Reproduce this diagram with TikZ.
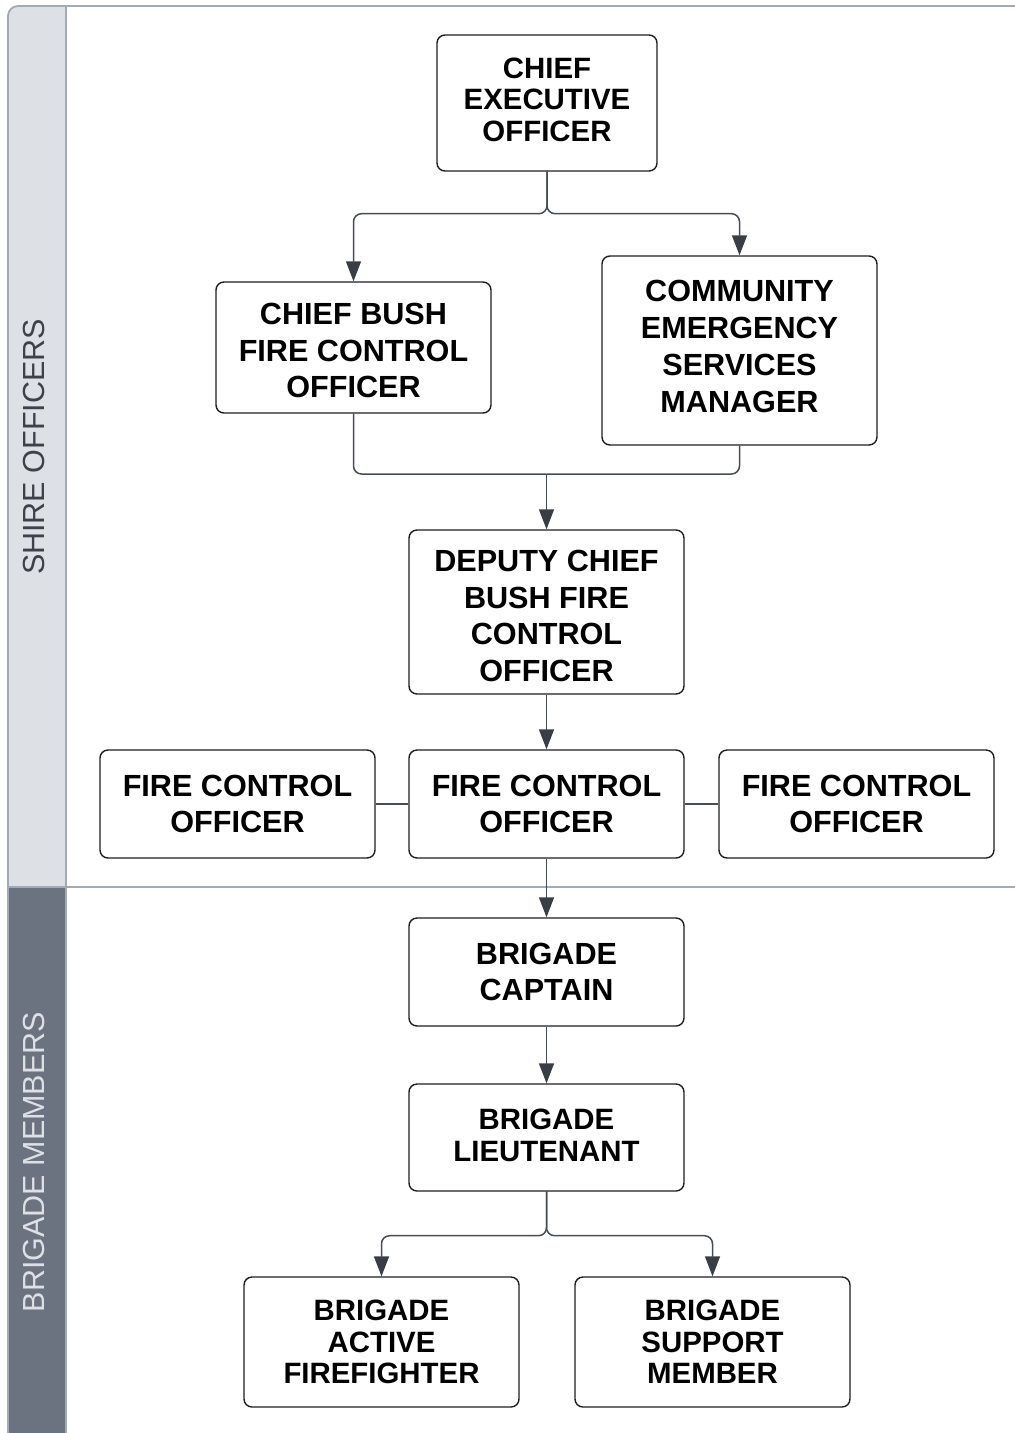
\documentclass[tikz,border=0pt]{standalone}
\usepackage{fontspec}
\setmainfont{Liberation Sans}
\usetikzlibrary{arrows.meta}
\definecolor{laneline}{HTML}{A3A9B5}
\definecolor{lanelight}{HTML}{DDE0E5}
\definecolor{lanedark}{HTML}{6B7280}
\definecolor{labeldark}{HTML}{3C424B}
\definecolor{connc}{HTML}{474D57}
\definecolor{tipc}{HTML}{393E46}
\definecolor{boxc}{HTML}{1E1E1E}
\tikzset{
  box/.style={draw=boxc, line width=1.4pt, rounded corners=8pt, fill=white, inner sep=0pt},
  tsmall/.style={align=center, inner sep=0pt, font=\fontsize{29.4}{31.5}\selectfont\bfseries},
  tlarge/.style={align=center, inner sep=0pt, font=\fontsize{30.6}{36.7}\selectfont\bfseries},
  conn/.style={draw=connc, line width=1.5pt, rounded corners=8pt},
  arr/.style={conn, -{Triangle[length=20pt,width=15pt,fill=tipc,color=tipc]}},
  lanelabel/.style={rotate=90, font=\fontsize{30.5}{32}\selectfont}
}
\begin{document}
\begin{tikzpicture}[x=1pt,y=-1pt]
\useasboundingbox (0,0) rectangle (1015,1433);
% swimlanes
\fill[lanelight] (8,1433) -- (8,16) arc[start angle=180,end angle=270,radius=10] -- (66,6) -- (66,887) -- (8,887) -- cycle;
\fill[lanedark] (8,887) rectangle (66,1433);
\draw[laneline, line width=1.8pt] (8,1433) -- (8,16) arc[start angle=180,end angle=270,radius=10] -- (1015,6);
\draw[laneline, line width=1.5pt] (66,6) -- (66,1433);
\draw[laneline, line width=1.5pt] (8,887) -- (1015,887);
\node[lanelabel, text=labeldark] (l1) at (34,447) {SHIRE OFFICERS};
\node[lanelabel, text=lanelight] (l2) at (34,1162) {BRIGADE MEMBERS};
% boxes
\node[box, minimum width=220pt, minimum height=136pt,
  label={[tsmall, yshift=3.5pt]center:CHIEF\\EXECUTIVE\\OFFICER}] (ceo) at (547,103) {};
\node[box, minimum width=275pt, minimum height=131pt,
  label={[tlarge, yshift=-3pt]center:CHIEF BUSH\\FIRE CONTROL\\OFFICER}] (cbf) at (353.5,347.5) {};
\node[box, minimum width=275pt, minimum height=189pt,
  label={[tlarge, yshift=4pt]center:COMMUNITY\\EMERGENCY\\SERVICES\\MANAGER}] (cesm) at (739.5,350.5) {};
\node[box, minimum width=275pt, minimum height=164pt,
  label={[tlarge, yshift=-4pt]center:DEPUTY CHIEF\\BUSH FIRE\\CONTROL\\OFFICER}] (dcb) at (546.5,612) {};
\node[box, minimum width=275pt, minimum height=108pt,
  label={[tlarge]center:FIRE CONTROL\\OFFICER}] (fcol) at (237.5,804) {};
\node[box, minimum width=275pt, minimum height=108pt,
  label={[tlarge]center:FIRE CONTROL\\OFFICER}] (fcom) at (546.5,804) {};
\node[box, minimum width=275pt, minimum height=108pt,
  label={[tlarge]center:FIRE CONTROL\\OFFICER}] (fcor) at (856.5,804) {};
\node[box, minimum width=275pt, minimum height=108pt,
  label={[tlarge]center:BRIGADE\\CAPTAIN}] (bc) at (546.5,972) {};
\node[box, minimum width=275pt, minimum height=107pt,
  label={[tsmall, yshift=2pt]center:BRIGADE\\LIEUTENANT}] (bl) at (546.5,1137.5) {};
\node[box, minimum width=275pt, minimum height=130pt,
  label={[tsmall]center:BRIGADE\\ACTIVE\\FIREFIGHTER}] (baf) at (381.5,1342) {};
\node[box, minimum width=275pt, minimum height=130pt,
  label={[tsmall]center:BRIGADE\\SUPPORT\\MEMBER}] (bsm) at (712.5,1342) {};
% connectors
\draw[arr] (ceo.south) -- ++(0,42) -| (cbf.north);
\draw[arr] (ceo.south) -- ++(0,42) -| (cesm.north);
\coordinate (j1) at (546.5,474);
\draw[conn] (cbf.south) |- (j1);
\draw[conn] (cesm.south) |- (j1);
\draw[arr] (j1) -- (dcb.north);
\draw[arr] (dcb.south) -- (fcom.north);
\draw[conn] (fcol.east) -- (fcom.west);
\draw[conn] (fcom.east) -- (fcor.west);
\draw[arr] (fcom.south) -- (bc.north);
\draw[arr] (bc.south) -- (bl.north);
\draw[arr] (bl.south) -- ++(0,44) -| (baf.north);
\draw[arr] (bl.south) -- ++(0,44) -| (bsm.north);
\end{tikzpicture}
\end{document}
